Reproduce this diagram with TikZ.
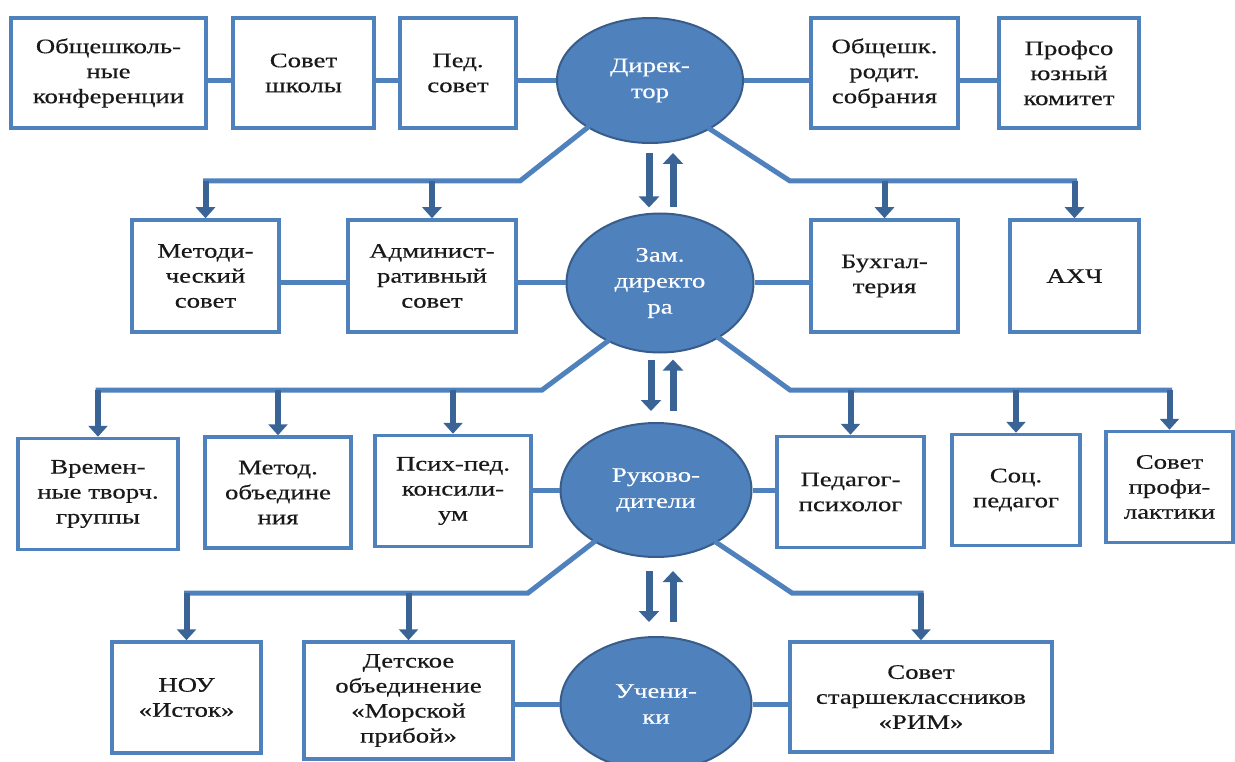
\documentclass[tikz,border=0pt]{standalone}
\usepackage{fontspec}
\setmainfont{Liberation Serif}[FakeStretch=1.3,FakeBold=0.4]
\usetikzlibrary{shapes.geometric,arrows.meta}

\definecolor{boxblue}{HTML}{4F81BD}
\definecolor{rimblue}{HTML}{385D8A}
\definecolor{arrowblue}{HTML}{3B6496}

\tikzset{
	unit/.style={draw=boxblue, line width=3.5pt, fill=white, align=center, inner sep=0pt,
		minimum height=110pt, text=black!90, font=\fontsize{20.6}{25}\selectfont},
	head/.style={ellipse, draw=rimblue, line width=2pt, fill=boxblue, text=white, align=center,
		inner sep=0pt, font=\fontsize{20.6}{26}\selectfont},
	link/.style={draw=boxblue, line width=5pt},
	branch/.style={draw=boxblue, line width=5pt, line cap=rect},
	drop/.style={draw=arrowblue, line width=6pt, -{Triangle[width=19pt,length=11pt]}},
	twoway/.style={draw=arrowblue, line width=7pt, -{Triangle[width=20pt,length=11pt]}}
}

\begin{document}
\begin{tikzpicture}[x=1pt, y=-1pt]
	\useasboundingbox (0,0) rectangle (1235,762);

	% heads
	\node [head, minimum width=186pt, minimum height=125pt] (dir) at (650,80.5) {Дирек-\\тор};
	\node [head, minimum width=187pt, minimum height=139pt] (zam) at (660,283) {Зам.\\директо\\ра};
	\node [head, minimum width=191pt, minimum height=134pt] (ruk) at (656,490) {Руково-\\дители};
	\node [head, minimum width=191pt, minimum height=134pt] (uch) at (656,704) {Учени-\\ки};

	% top row
	\foreach \n/\x/\w/\t in {obshch/108.5/195/{Общешколь-\\ные\\конференции},
		sovsh/303.5/141/{Совет\\школы}, pedsov/458/116/{Пед.\\совет},
		rodit/884.5/147/{Общешк.\\родит.\\собрания}, prof/1069/140/{Профсо\\юзный\\комитет}}
		\node [unit, minimum width=\w pt] (\n) at (\x,73) {\t};

	% second row
	\foreach \n/\x/\w/\t in {metod/205.5/147/{Методи-\\ческий\\совет},
		admin/432/168/{Админист-\\ративный\\совет},
		buh/884.5/147/{Бухгал-\\терия}, ahch/1074.5/129/{АХЧ}}
		\node [unit, minimum width=\w pt, minimum height=112pt] (\n) at (\x,276) {\t};

	% third row
	\foreach \n/\x/\y/\w/\t in {vrem/98/494/160/{Времен-\\ные творч.\\группы},
		metob/278/492.5/146/{Метод.\\объедине\\ния}, psih/453/491/156/{Псих-пед.\\консили-\\ум},
		pedps/850.5/492/147/{Педагог-\\психолог}, soc/1016/490/128/{Соц.\\педагог},
		proph/1169.5/487/127/{Совет\\профи-\\лактики}}
		\node [unit, minimum width=\w pt, minimum height=111pt] (\n) at (\x,\y) {\t};

	% bottom row
	\foreach \n/\x/\y/\w/\h/\t in {nou/186.5/697.5/149/111/{НОУ\\«Исток»},
		det/408.5/700.5/209/117/{Детское\\объединение\\«Морской\\прибой»},
		rim/921/697/262/110/{Совет\\старшеклассников\\«РИМ»}}
		\node [unit, minimum width=\w pt, minimum height=\h pt] (\n) at (\x,\y) {\t};

	% links in the rows
	\draw [link] (obshch.east |- dir) -- (sovsh.west |- dir);
	\draw [link] (sovsh.east |- dir) -- (pedsov.west |- dir);
	\draw [link] (pedsov.east |- dir) -- (dir);
	\draw [link] (dir) -- (rodit.west |- dir);
	\draw [link] (rodit.east |- dir) -- (prof.west |- dir);

	\draw [link] (metod.east |- zam) -- (admin.west |- zam);
	\draw [link] (admin.east |- zam) -- (zam);
	\draw [link] (zam) -- (buh.west |- zam);

	\draw [link] (psih.east |- ruk) -- (ruk);
	\draw [link] (ruk) -- (pedps.west |- ruk);

	\draw [link] (det.east |- uch) -- (uch);
	\draw [link] (uch) -- (rim.west |- uch);

	% branches of the director
	\coordinate (dirL) at (520,181);
	\coordinate (dirR) at (790,181);
	\draw [branch] (dir.217) -- (dirL) -- (metod.north |- dirL);
	\draw [branch] (dir.321) -- (dirR) -- (ahch.north |- dirR);
	\foreach \b in {metod,admin,buh,ahch}
		\draw [drop] (\b.north |- dirL) -- (\b.north);

	% branches of the deputy
	\coordinate (zamL) at (542,390);
	\coordinate (zamR) at (790,390);
	\draw [branch] (zam.228) -- (zamL) -- (vrem.north |- zamL);
	\draw [branch] (zam.317) -- (zamR) -- (proph.north |- zamR);
	\foreach \b in {vrem,metob,psih,pedps,soc,proph}
		\draw [drop] (\b.north |- zamL) -- (\b.north);

	% branches of the heads
	\coordinate (rukL) at (528,593);
	\coordinate (rukR) at (792,593);
	\draw [branch] (ruk.220) -- (rukL) -- (nou.north |- rukL);
	\draw [branch] (ruk.319) -- (rukR) -- (rim.north |- rukR);
	\foreach \b in {nou,det,rim}
		\draw [drop] (\b.north |- rukL) -- (\b.north);

	% two-way arrows
	\draw [twoway, shorten <=9pt, shorten >=5pt] ([xshift=-1pt]dir.south) -- ([xshift=-1pt]dir.south |- zam.north);
	\draw [twoway, shorten <=5pt, shorten >=9pt] ([xshift=23pt]dir.south |- zam.north) -- ([xshift=23pt]dir.south);
	\draw [twoway, shorten <=6pt, shorten >=11pt] ([xshift=-9pt]zam.south) -- ([xshift=-9pt]zam.south |- ruk.north);
	\draw [twoway, shorten <=11pt, shorten >=6pt] ([xshift=13pt]zam.south |- ruk.north) -- ([xshift=13pt]zam.south);
	\draw [twoway, shorten <=13pt, shorten >=14pt] ([xshift=-7pt]ruk.south) -- ([xshift=-7pt]ruk.south |- uch.north);
	\draw [twoway, shorten <=14pt, shorten >=13pt] ([xshift=17pt]ruk.south |- uch.north) -- ([xshift=17pt]ruk.south);

\end{tikzpicture}
\end{document}
